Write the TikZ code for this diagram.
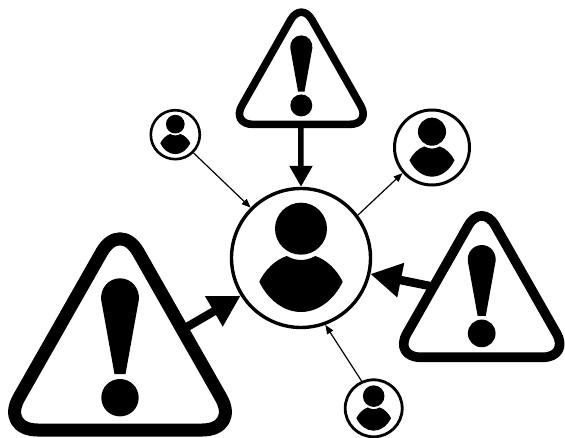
\documentclass[tikz,border=0pt]{standalone}
\usepackage{tikz}
\usetikzlibrary{arrows.meta, positioning, calc}

\begin{document}
\begin{tikzpicture}[
    x=1pt, y=-1pt,
    ring/.style={circle, draw=black, fill=white, inner sep=0pt},
    thinarrow/.style={line width=1.2pt, -{Triangle[length=9pt, width=7pt]}},
    bigarrow/.style={line width=8.5pt, -{Triangle[length=31pt, width=33pt]}},
    midarrow/.style={line width=5.5pt, -{Triangle[length=21pt, width=22pt]}},
    pics/person/.style={code={
        \begin{scope}[scale=#1]
        \fill (0,-29.3) circle (26);
        \fill (-41.7,23.7) .. controls (-36,12) and (-26,2) .. (-14.3,-2)
            .. controls (-9,1) and (-4,2) .. (0,2)
            .. controls (4,2) and (9,1) .. (14.3,-2)
            .. controls (26,2) and (36,12) .. (41.7,23.7)
            .. controls (33,42) and (17,54) .. (0,54)
            .. controls (-17,54) and (-33,42) .. (-41.7,23.7) -- cycle;
        \end{scope}
    }},
    pics/warning/.style={code={
        \pgfmathsetlengthmacro{\warnwidth}{#1*13pt}
        \pgfmathsetlengthmacro{\warnround}{#1*37pt}
        \begin{scope}[scale=#1]
        \draw[line width=\warnwidth, rounded corners=\warnround, line join=round]
            (0,-210) -- (119.4,0) -- (-119.4,0) -- cycle;
        \fill (0,-32.3) circle (18.7);
        \fill (-5.5,-56) -- (-18.8,-130) .. controls (-20,-141) and (-12,-151.7) .. (0,-151.7)
            .. controls (12,-151.7) and (20,-141) .. (18.8,-130) -- (5.5,-56) -- cycle;
        \end{scope}
    }}
]
\useasboundingbox (0,0) rectangle (565,438);

% warning signs
\pic at (120,430) {warning=1};
\pic at (481.7,357.3) {warning=0.74};
\pic at (301.3,124.4) {warning=0.587};
\coordinate (warnleft) at (187,327);
\coordinate (warnright) at (430,286);
\coordinate (warntop) at (300.9,127);

% people
\node[ring, line width=3.4pt, minimum size=139pt] (hub) at (301,258) {};
\node[ring, line width=2.6pt, minimum size=49pt] (userleft) at (175.3,134.7) {};
\node[ring, line width=3pt, minimum size=75pt] (userright) at (432,147.5) {};
\node[ring, line width=2.8pt, minimum size=57pt] (userbottom) at (373.7,408.3) {};
\pic at (hub) {person=1};
\pic at (userleft) {person=0.36};
\pic at (userright) {person=0.54};
\pic at (userbottom) {person=0.415};

% arrows
\draw[bigarrow] (warnleft) -- (hub.212);
\draw[bigarrow] (warnright) -- (hub.-13);
\draw[midarrow] (warntop) -- (hub.90);
\draw[thinarrow] (userleft.-45) -- (hub.135);
\draw[thinarrow] (hub.37) -- (userright.221);
\draw[thinarrow] (userbottom.114) -- (hub.-70);
\end{tikzpicture}
\end{document}
